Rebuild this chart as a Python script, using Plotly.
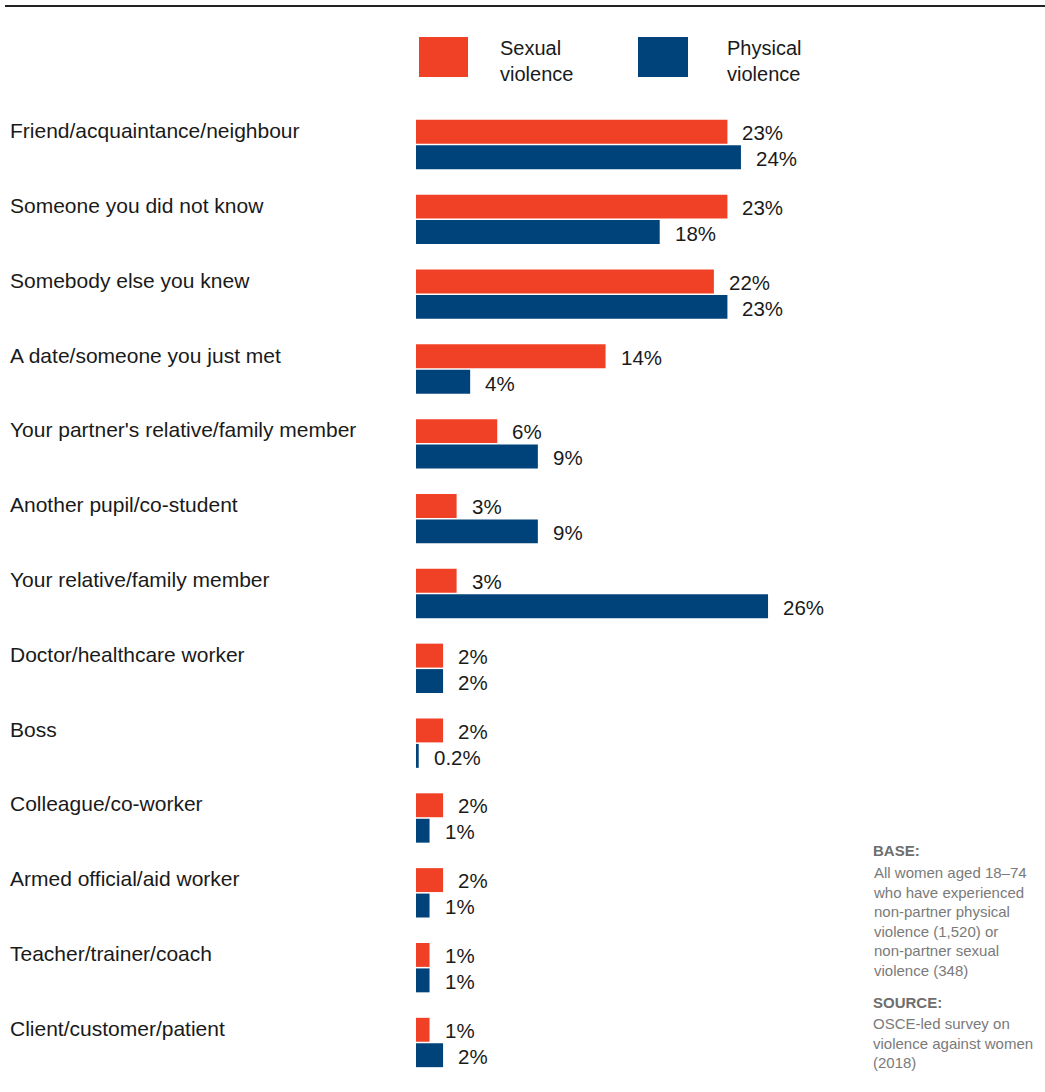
import plotly.graph_objects as go

# Perpetrator categories, top to bottom
categories = [
    "Friend/acquaintance/neighbour",
    "Someone you did not know",
    "Somebody else you knew",
    "A date/someone you just met",
    "Your partner's relative/family member",
    "Another pupil/co-student",
    "Your relative/family member",
    "Doctor/healthcare worker",
    "Boss",
    "Colleague/co-worker",
    "Armed official/aid worker",
    "Teacher/trainer/coach",
    "Client/customer/patient",
]
sexual = [23, 23, 22, 14, 6, 3, 3, 2, 2, 2, 2, 1, 1]
physical = [24, 18, 23, 4, 9, 9, 26, 2, 0.2, 1, 1, 1, 2]
sexual_labels = ["23%", "23%", "22%", "14%", "6%", "3%", "3%", "2%", "2%", "2%", "2%", "1%", "1%"]
physical_labels = ["24%", "18%", "23%", "4%", "9%", "9%", "26%", "2%", "0.2%", "1%", "1%", "1%", "2%"]

RED = "#F04025"
BLUE = "#00437B"
FONT = "Liberation Sans, Arial, sans-serif"
W, H = 1045, 1092

fig = go.Figure()
fig.add_trace(go.Bar(y=categories, x=sexual, orientation="h", name="Sexual violence",
                     marker=dict(color=RED, line=dict(width=0))))
fig.add_trace(go.Bar(y=categories, x=physical, orientation="h", name="Physical violence",
                     marker=dict(color=BLUE, line=dict(width=0))))

x0 = 416 / W
fig.update_layout(
    width=W, height=H,
    margin=dict(l=0, r=0, t=0, b=0),
    paper_bgcolor="white", plot_bgcolor="white",
    barmode="group", bargap=0.32, bargroupgap=0.06,
    showlegend=False,
    font=dict(family=FONT, color="#1a1a1a"),
    xaxis=dict(domain=[x0, 1], range=[0, (W - 416) / 13.54], visible=False, fixedrange=True),
    yaxis=dict(domain=[1 - 1079.9 / H, 1 - 107.1 / H], autorange="reversed",
               showticklabels=False, showgrid=False, zeroline=False, showline=False),
)

annotations = []
for cat, s, p, sl, pl in zip(categories, sexual, physical, sexual_labels, physical_labels):
    annotations.append(dict(x=0, xref="paper", y=cat, yref="y", text=cat, showarrow=False,
                            xanchor="left", xshift=8, yshift=14, font=dict(size=21)))
    annotations.append(dict(x=s, y=cat, xref="x", yref="y", text=sl, showarrow=False,
                            xanchor="left", xshift=13, yshift=12, font=dict(size=20.5)))
    annotations.append(dict(x=p, y=cat, xref="x", yref="y", text=pl, showarrow=False,
                            xanchor="left", xshift=13, yshift=-14, font=dict(size=20.5)))

# Legend built from shapes and text
def px(x):
    return x / W

def py(y):
    return 1 - y / H

shapes = [
    dict(type="line", xref="paper", yref="paper", x0=px(5), x1=1, y0=py(6), y1=py(6),
         line=dict(color="#222222", width=2)),
    dict(type="rect", xref="paper", yref="paper", x0=px(419), x1=px(468), y0=py(77), y1=py(37),
         fillcolor=RED, line=dict(width=0)),
    dict(type="rect", xref="paper", yref="paper", x0=px(638), x1=px(688), y0=py(77), y1=py(37),
         fillcolor=BLUE, line=dict(width=0)),
]
annotations.append(dict(x=px(498), y=py(61), xref="paper", yref="paper", xanchor="left",
                        yanchor="middle", align="left", showarrow=False,
                        text="Sexual<br>violence", font=dict(size=20)))
annotations.append(dict(x=px(725), y=py(61), xref="paper", yref="paper", xanchor="left",
                        yanchor="middle", align="left", showarrow=False,
                        text="Physical<br>violence", font=dict(size=20)))

# Base and source notes
GREY = "#7a7a7a"
HEAD = "#6e6e6e"
annotations.append(dict(x=px(871), y=py(850), xref="paper", yref="paper", xanchor="left",
                        yanchor="middle", align="left", showarrow=False,
                        text="<b>BASE:</b>", font=dict(size=15, color=HEAD)))
annotations.append(dict(x=px(871), y=py(862), xref="paper", yref="paper", xanchor="left",
                        yanchor="top", align="left", showarrow=False,
                        text="All women aged 18–74<br>who have experienced<br>non-partner physical<br>"
                             "violence (1,520) or<br>non-partner sexual<br>violence (348)",
                        font=dict(size=15, color=GREY)))
annotations.append(dict(x=px(871), y=py(1002), xref="paper", yref="paper", xanchor="left",
                        yanchor="middle", align="left", showarrow=False,
                        text="<b>SOURCE:</b>", font=dict(size=15, color=HEAD)))
annotations.append(dict(x=px(871), y=py(1013), xref="paper", yref="paper", xanchor="left",
                        yanchor="top", align="left", showarrow=False,
                        text="OSCE-led survey on<br>violence against women<br>(2018)",
                        font=dict(size=15, color=GREY)))

fig.update_layout(annotations=annotations, shapes=shapes)
fig.write_html("out.html")
